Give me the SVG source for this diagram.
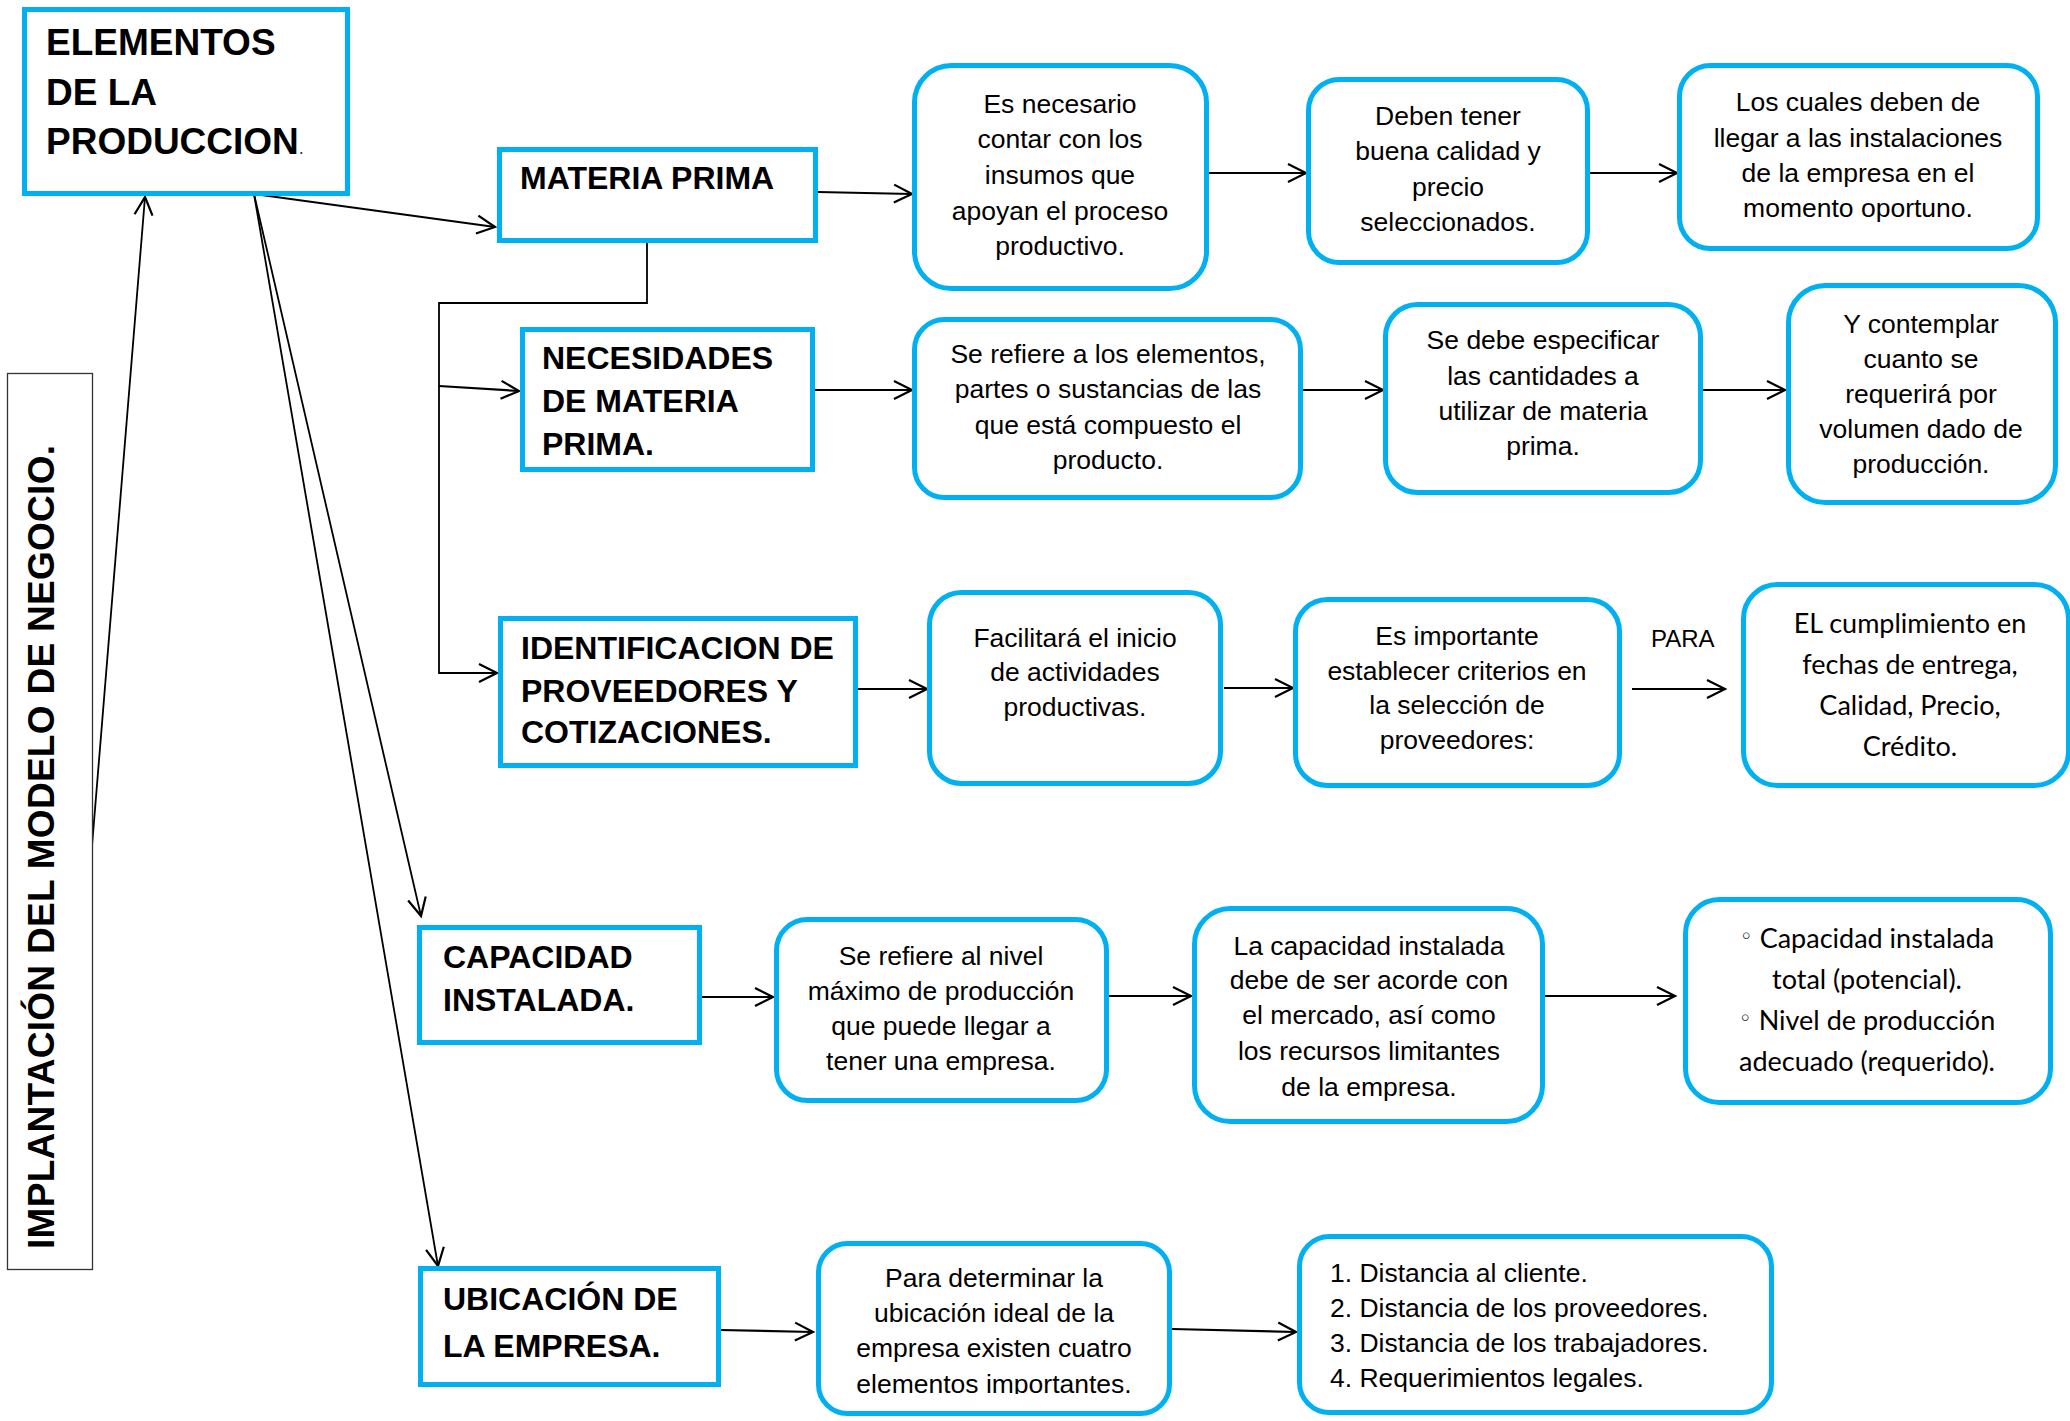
<svg xmlns="http://www.w3.org/2000/svg" width="2070" height="1421" viewBox="0 0 2070 1421">
<defs>
<style>
.bx{fill:#fff;stroke:#00B0F0;stroke-width:5}
.side{fill:#fff;stroke:#333;stroke-width:1.3}
.ln{fill:none;stroke:#000;stroke-width:2.2}
.lt{fill:none;stroke:#000;stroke-width:1.8}
.hb{font-family:"Liberation Sans",Arial,sans-serif;font-weight:bold;font-size:32px;fill:#000}
.tx{font-family:"Liberation Sans",Arial,sans-serif;font-size:26.5px;fill:#000;text-anchor:middle}
.tl{font-family:"Liberation Sans",Arial,sans-serif;font-size:26.5px;fill:#000}
.cb{font-family:Lato,"Open Sans",sans-serif;font-size:27px;fill:#000;text-anchor:middle}
.bul{font-family:"DejaVu Sans",sans-serif;font-size:22px}
</style>
<marker id="ah" markerUnits="userSpaceOnUse" markerWidth="24" markerHeight="24" refX="20" refY="11" orient="auto" overflow="visible">
<path d="M2,2 L20,11 L2,20" fill="none" stroke="#000" stroke-width="2.2"/>
</marker>
<clipPath id="clipPara"><rect x="818" y="1243" width="352" height="151"/></clipPath>
</defs>

<g id="connectors">
<line class="lt" x1="92" y1="846" x2="145" y2="197" marker-end="url(#ah)"/>
<line class="ln" x1="254" y1="194" x2="495" y2="227" marker-end="url(#ah)"/>
<line class="lt" x1="254" y1="194" x2="421" y2="916" marker-end="url(#ah)"/>
<line class="lt" x1="254" y1="194" x2="438" y2="1266" marker-end="url(#ah)"/>
<line class="ln" x1="818" y1="192" x2="912" y2="194" marker-end="url(#ah)"/>
<line class="ln" x1="1208" y1="173" x2="1306" y2="173" marker-end="url(#ah)"/>
<line class="ln" x1="1590" y1="173" x2="1677" y2="173" marker-end="url(#ah)"/>
<polyline class="lt" points="647,243 647,303 439,303 439,673 497,673" marker-end="url(#ah)"/>
<line class="ln" x1="439" y1="386" x2="519" y2="391" marker-end="url(#ah)"/>
<line class="ln" x1="815" y1="390" x2="912" y2="390" marker-end="url(#ah)"/>
<line class="ln" x1="1303" y1="390" x2="1383" y2="390" marker-end="url(#ah)"/>
<line class="ln" x1="1703" y1="390" x2="1785" y2="390" marker-end="url(#ah)"/>
<line class="ln" x1="858" y1="689" x2="927" y2="689" marker-end="url(#ah)"/>
<line class="ln" x1="1224" y1="688" x2="1293" y2="688" marker-end="url(#ah)"/>
<line class="ln" x1="1632" y1="689" x2="1725" y2="689" marker-end="url(#ah)"/>
<line class="ln" x1="700" y1="997" x2="773" y2="997" marker-end="url(#ah)"/>
<line class="ln" x1="1109" y1="996" x2="1191" y2="996" marker-end="url(#ah)"/>
<line class="ln" x1="1544" y1="996" x2="1675" y2="996" marker-end="url(#ah)"/>
<line class="ln" x1="720" y1="1330" x2="813" y2="1332" marker-end="url(#ah)"/>
<line class="ln" x1="1172" y1="1329" x2="1296" y2="1332" marker-end="url(#ah)"/>
</g>

<g id="side">
<rect class="side" x="7.5" y="373.5" width="85" height="896"/>
<text class="hb" style="font-size:37px" transform="translate(54,1249) rotate(-90)" textLength="804" lengthAdjust="spacing">IMPLANTACIÓN DEL MODELO DE NEGOCIO.</text>
</g>

<g id="elementos">
<rect class="bx" x="24.5" y="9.5" width="323" height="184"/>
<text class="hb" style="font-size:37px" x="46" y="55">ELEMENTOS</text>
<text class="hb" style="font-size:37px" x="46" y="105">DE LA</text>
<text class="hb" style="font-size:37px" x="46" y="154">PRODUCCION<tspan style="font-weight:normal;font-size:18px;fill:#333">.</tspan></text>
</g>

<g id="materia">
<rect class="bx" x="499.5" y="149.5" width="316" height="91"/>
<text class="hb" x="520" y="189">MATERIA PRIMA</text>
</g>

<g id="necesidades">
<rect class="bx" x="522.5" y="329.5" width="290" height="140"/>
<text class="hb" x="542" y="369">NECESIDADES</text>
<text class="hb" x="542" y="412">DE MATERIA</text>
<text class="hb" x="542" y="455">PRIMA.</text>
</g>

<g id="identificacion">
<rect class="bx" x="500.5" y="618.5" width="355" height="147"/>
<text class="hb" x="521" y="659">IDENTIFICACION DE</text>
<text class="hb" x="521" y="702">PROVEEDORES Y</text>
<text class="hb" x="521" y="743">COTIZACIONES.</text>
</g>

<g id="capacidad">
<rect class="bx" x="419.5" y="927.5" width="280" height="115"/>
<text class="hb" x="443" y="968">CAPACIDAD</text>
<text class="hb" x="443" y="1011">INSTALADA.</text>
</g>

<g id="ubicacion">
<rect class="bx" x="420.5" y="1268.5" width="298" height="116"/>
<text class="hb" x="443" y="1310">UBICACIÓN DE</text>
<text class="hb" x="443" y="1357">LA EMPRESA.</text>
</g>

<g id="es-necesario">
<rect class="bx" x="914.5" y="65.5" width="292" height="223" rx="37"/>
<text class="tx" x="1060" y="113">Es necesario</text>
<text class="tx" x="1060" y="148">contar con los</text>
<text class="tx" x="1060" y="184">insumos que</text>
<text class="tx" x="1060" y="220">apoyan el proceso</text>
<text class="tx" x="1060" y="255">productivo.</text>
</g>

<g id="deben-tener">
<rect class="bx" x="1308.5" y="79.5" width="279" height="183" rx="31"/>
<text class="tx" x="1448" y="125">Deben tener</text>
<text class="tx" x="1448" y="160">buena calidad y</text>
<text class="tx" x="1448" y="196">precio</text>
<text class="tx" x="1448" y="231">seleccionados.</text>
</g>

<g id="los-cuales">
<rect class="bx" x="1679.5" y="65.5" width="358" height="183" rx="31"/>
<text class="tx" x="1858" y="111">Los cuales deben de</text>
<text class="tx" x="1858" y="147">llegar a las instalaciones</text>
<text class="tx" x="1858" y="182">de la empresa en el</text>
<text class="tx" x="1858" y="217">momento oportuno.</text>
</g>

<g id="se-refiere-elementos">
<rect class="bx" x="914.5" y="319.5" width="386" height="178" rx="30"/>
<text class="tx" x="1108" y="363">Se refiere a los elementos,</text>
<text class="tx" x="1108" y="398">partes o sustancias de las</text>
<text class="tx" x="1108" y="434">que está compuesto el</text>
<text class="tx" x="1108" y="469">producto.</text>
</g>

<g id="se-debe">
<rect class="bx" x="1385.5" y="304.5" width="315" height="188" rx="32"/>
<text class="tx" x="1543" y="349">Se debe especificar</text>
<text class="tx" x="1543" y="385">las cantidades a</text>
<text class="tx" x="1543" y="420">utilizar de materia</text>
<text class="tx" x="1543" y="455">prima.</text>
</g>

<g id="y-contemplar">
<rect class="bx" x="1788.5" y="285.5" width="267" height="217" rx="37"/>
<text class="tx" x="1921" y="333">Y contemplar</text>
<text class="tx" x="1921" y="368">cuanto se</text>
<text class="tx" x="1921" y="403">requerirá por</text>
<text class="tx" x="1921" y="438">volumen dado de</text>
<text class="tx" x="1921" y="473">producción.</text>
</g>

<g id="facilitara">
<rect class="bx" x="929.5" y="592.5" width="291" height="191" rx="32"/>
<text class="tx" x="1075" y="647">Facilitará el inicio</text>
<text class="tx" x="1075" y="681">de actividades</text>
<text class="tx" x="1075" y="716">productivas.</text>
</g>

<g id="es-importante">
<rect class="bx" x="1295.5" y="599.5" width="324" height="186" rx="32"/>
<text class="tx" x="1457" y="645">Es importante</text>
<text class="tx" x="1457" y="680">establecer criterios en</text>
<text class="tx" x="1457" y="714">la selección de</text>
<text class="tx" x="1457" y="749">proveedores:</text>
</g>

<g id="para-label">
<text class="tl" style="font-size:24px" x="1651" y="647">PARA</text>
</g>

<g id="cumplimiento">
<rect class="bx" x="1743.5" y="584.5" width="325" height="201" rx="34"/>
<text class="cb" x="1910" y="633">EL cumplimiento en</text>
<text class="cb" x="1910" y="674">fechas de entrega,</text>
<text class="cb" x="1910" y="715">Calidad, Precio,</text>
<text class="cb" x="1910" y="756">Crédito.</text>
</g>

<g id="se-refiere-nivel">
<rect class="bx" x="776.5" y="919.5" width="330" height="181" rx="31"/>
<text class="tx" x="941" y="965">Se refiere al nivel</text>
<text class="tx" x="941" y="1000">máximo de producción</text>
<text class="tx" x="941" y="1035">que puede llegar a</text>
<text class="tx" x="941" y="1070">tener una empresa.</text>
</g>

<g id="la-capacidad">
<rect class="bx" x="1194.5" y="908.5" width="348" height="213" rx="36"/>
<text class="tx" x="1369" y="955">La capacidad instalada</text>
<text class="tx" x="1369" y="989">debe de ser acorde con</text>
<text class="tx" x="1369" y="1024">el mercado, así como</text>
<text class="tx" x="1369" y="1060">los recursos limitantes</text>
<text class="tx" x="1369" y="1096">de la empresa.</text>
</g>

<g id="capacidad-lista">
<rect class="bx" x="1685.5" y="899.5" width="365" height="203" rx="34"/>
<text class="cb" x="1867" y="948"><tspan class="bul" dy="-4">◦</tspan><tspan dy="4"> Capacidad instalada</tspan></text>
<text class="cb" x="1867" y="989">total (potencial).</text>
<text class="cb" x="1867" y="1030"><tspan class="bul" dy="-4">◦</tspan><tspan dy="4"> Nivel de producción</tspan></text>
<text class="cb" x="1867" y="1071">adecuado (requerido).</text>
</g>

<g id="para-determinar">
<rect class="bx" x="818.5" y="1243.5" width="351" height="170" rx="29"/>
<g clip-path="url(#clipPara)">
<text class="tx" x="994" y="1287">Para determinar la</text>
<text class="tx" x="994" y="1322">ubicación ideal de la</text>
<text class="tx" x="994" y="1357">empresa existen cuatro</text>
<text class="tx" x="994" y="1393">elementos importantes.</text>
</g>
</g>

<g id="distancias">
<rect class="bx" x="1299.5" y="1236.5" width="472" height="176" rx="30"/>
<text class="tl" x="1330" y="1282">1. Distancia al cliente.</text>
<text class="tl" x="1330" y="1317">2. Distancia de los proveedores.</text>
<text class="tl" x="1330" y="1352">3. Distancia de los trabajadores.</text>
<text class="tl" x="1330" y="1387">4. Requerimientos legales.</text>
</g>
</svg>
